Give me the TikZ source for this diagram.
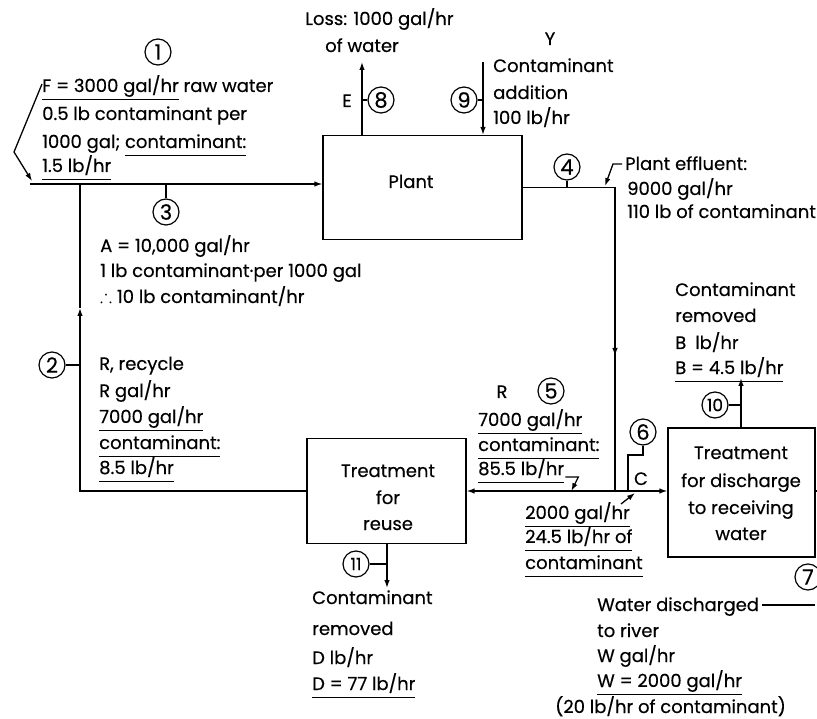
\documentclass[tikz,border=0pt]{standalone}
\usepackage{amssymb}
\usepackage{fontspec}
\setmainfont{Poppins}[FakeBold=0.4]
\usetikzlibrary{arrows.meta}
\newcommand\mytxt[4]{\node[lbl] (#1) at (#2,#3) {#4};}
\newcommand\myctr[4]{\node[clbl] (#1) at (#2,#3) {#4};}
\newcommand\myul[1]{\underline{\raisebox{0pt}[\height][0pt]{#1}\rule[-5pt]{0pt}{0pt}}}
\begin{document}
\begin{tikzpicture}[x=1pt,y=-1pt,
  lbl/.style={anchor=base west, inner sep=0pt, font=\fontsize{18}{20}\selectfont},
  clbl/.style={anchor=base, inner sep=0pt, font=\fontsize{18}{20}\selectfont},
  cnum/.style={circle, draw, line width=1.2pt, minimum size=26pt, inner sep=0pt, font=\fontsize{21}{22}\selectfont},
  boxn/.style={draw, line width=1.3pt, rectangle, inner sep=0pt},
  flow/.style={line width=1.3pt},
  arr/.style={-{Latex[length=8pt,width=5.5pt]}}]
\useasboundingbox (0,0) rectangle (817,719);
% boxes
\node[boxn, minimum width=199pt, minimum height=104pt] (plant) at (422.5,187.5) {};
\node[boxn, minimum width=159pt, minimum height=105pt] (reuse) at (386.5,491) {};
\node[boxn, minimum width=147pt, minimum height=129pt] (disch) at (741.5,492.5) {};
\myctr{plantlbl}{411}{188}{Plant}
\myctr{ru1}{388}{477}{Treatment}
\myctr{ru2}{388}{504}{for}
\myctr{ru3}{388}{530}{reuse}
\myctr{ds1}{741}{459}{Treatment}
\myctr{ds2}{741}{487}{for discharge}
\myctr{ds3}{741}{514}{to receiving}
\myctr{ds4}{741}{540}{water}
% circled numbers
\node[cnum] (c1) at (158,52) {1};
\node[cnum] (c2) at (52,365) {2};
\node[cnum] (c3) at (166,212) {3};
\node[cnum] (c4) at (567,167) {4};
\node[cnum] (c5) at (551,391) {5};
\node[cnum] (c6) at (643,432) {6};
\node[cnum] (c7) at (808,577) {7};
\node[cnum] (c8) at (381,100) {8};
\node[cnum] (c9) at (464,100) {9};
\node[cnum, font=\fontsize{17}{18}\selectfont] (c10) at (715,405) {10};
\node[cnum, font=\fontsize{17}{18}\selectfont] (c11) at (356,564) {11};
% coordinates
\coordinate (fin) at (30,184);
\coordinate (j1) at (80,184);
\coordinate (j2) at (80,491);
\coordinate (m2) at (80,308);
\coordinate (d1) at (42,84);
\coordinate (d2) at (14,152);
\coordinate (d3) at (32,181);
\coordinate (c4j) at (615,187.5);
\coordinate (m4) at (615,356);
\coordinate (j5) at (615,491);
\coordinate (eTop) at (362,62);
\coordinate (yTop) at (483,62);
\coordinate (t10) at (741,378);
\coordinate (t11) at (387,588);
% flows
\draw[flow,arr] (fin) -- (fin -| plant.west);
\draw[flow,arr] (d1) -- (d2) -- (d3);
\draw[flow,arr] (reuse.west) -- (j2) -- (m2);
\draw[flow] (m2) -- (j1);
\draw[flow] (plant.east) -- (c4j) -- (m4);
\draw[flow,arr] (c4j) -- (m4);
\draw[flow] (m4) -- (j5);
\draw[flow,arr] (j5) -- (reuse.east);
\draw[flow,arr] (j5) -- (j5 -| disch.west);
\draw[flow,arr] (eTop |- plant.north) -- (eTop);
\draw[flow,arr] (yTop) -- (yTop |- plant.north);
\draw[flow,arr] (t10 |- disch.north) -- (t10);
\draw[flow,arr] (t11 |- reuse.south) -- (t11);
\coordinate (ds5) at (817,491);
\draw[flow] (disch.east |- j5) -- (ds5);
% ticks
\draw[flow] (c2.east) -- (c2.east -| j1);
\draw[flow] (c3.north) -- (c3.north |- j1);
\draw[flow] (c4.south) -- (c4.south |- c4j);
\draw[flow] (c8.west) -- (c8.west -| eTop);
\draw[flow] (c9.east) -- (c9.east -| yTop);
\draw[flow] (c10.east) -- (c10.east -| t10);
\draw[flow] (c11.east) -- (c11.east -| t11);
\coordinate (c6a) at (643,455);
\coordinate (c6b) at (628,455);
\draw[flow] (c6.south) -- (c6a) -- (c6b) -- (c6b |- j5);
% leaders
\coordinate (pe1) at (622,164);
\coordinate (pe2) at (613,164);
\coordinate (pe3) at (605,186);
\draw[flow,arr] (pe1) -- (pe2) -- (pe3);
% text block 1
\mytxt{f1}{42}{92}{\myul{F = 3000 gal/hr} raw water}
\mytxt{f2}{42}{120}{0.5 lb contaminant per}
\mytxt{f3}{42}{148}{1000 gal; \myul{contaminant:}}
\mytxt{f4}{42}{172}{\myul{1.5 lb/hr}}
% block 3
\mytxt{a1}{100}{252}{A = 10,000 gal/hr}
\mytxt{a2}{100}{277}{1 lb contaminant·per 1000 gal}
\mytxt{a3}{100}{303}{$\therefore$ 10 lb contaminant/hr}
% loss
\mytxt{l1}{305}{25}{Loss: 1000 gal/hr}
\mytxt{l2}{325}{52}{of water}
\myctr{elbl}{347}{107}{E}
% Y
\myctr{ylbl}{550}{45}{Y}
\mytxt{y1}{493}{72}{Contaminant}
\mytxt{y2}{493}{99}{addition}
\mytxt{y3}{493}{124}{100 lb/hr}
% effluent
\mytxt{p1}{625}{170}{Plant effluent:}
\mytxt{p2}{627}{195}{9000 gal/hr}
\mytxt{p3}{627}{218}{110 lb of contaminant}
% block 2
\mytxt{b1}{99}{370}{R, recycle}
\mytxt{b2}{99}{397}{R gal/hr}
\mytxt{b3}{99}{423}{\myul{7000 gal/hr}}
\mytxt{b4}{99}{449}{\myul{contaminant:}}
\mytxt{b5}{99}{474}{\myul{8.5 lb/hr}}
% block 5
\myctr{rlbl}{502}{398}{R}
\mytxt{g1}{478}{426}{\myul{7000 gal/hr}}
\mytxt{g2}{478}{451}{\myul{contaminant:}}
\mytxt{g3}{478}{475}{\myul{85.5 lb/hr}}
\myctr{clbl}{641}{485}{C}
\coordinate (r1) at ([xshift=1pt,yshift=-2pt]g3.base east);
\coordinate (r2) at ([xshift=14pt,yshift=-2pt]g3.base east);
\coordinate (r3) at ([xshift=7pt]g3.base east |- j5);
\draw[flow,arr] (r1) -- (r2) -- (r3);
\coordinate (s1) at (621,504);
\coordinate (s2) at (635,493);
\draw[flow,arr] (s1) -- (s2);
% block 6
\mytxt{h1}{525}{519}{\myul{2000 gal/hr}}
\mytxt{h2}{525}{543}{\myul{24.5 lb/hr of}}
\mytxt{h3}{525}{569}{\myul{contaminant}}
% block 10
\mytxt{k1}{675}{296}{Contaminant}
\mytxt{k2}{675}{322}{removed}
\mytxt{k3}{675}{349}{B\enspace lb/hr}
\mytxt{k4}{675}{374}{\myul{B = 4.5 lb/hr}}
% block 11
\mytxt{n1}{312}{604}{Contaminant}
\mytxt{n2}{312}{635}{removed}
\mytxt{n3}{312}{664}{D lb/hr}
\mytxt{n4}{312}{690}{\myul{D = 77 lb/hr}}
% block 7
\mytxt{w1}{597}{611}{Water discharged}
\coordinate (wd) at (815,605);
\draw[flow] (w1.east |- wd) ++(3,0) -- (wd);
\mytxt{w2}{597}{637}{to river}
\mytxt{w3}{597}{662}{W gal/hr}
\mytxt{w4}{597}{687}{\myul{W = 2000 gal/hr}}
\mytxt{w5}{555}{713}{(20 lb/hr of contaminant)}
\end{tikzpicture}
\end{document}
